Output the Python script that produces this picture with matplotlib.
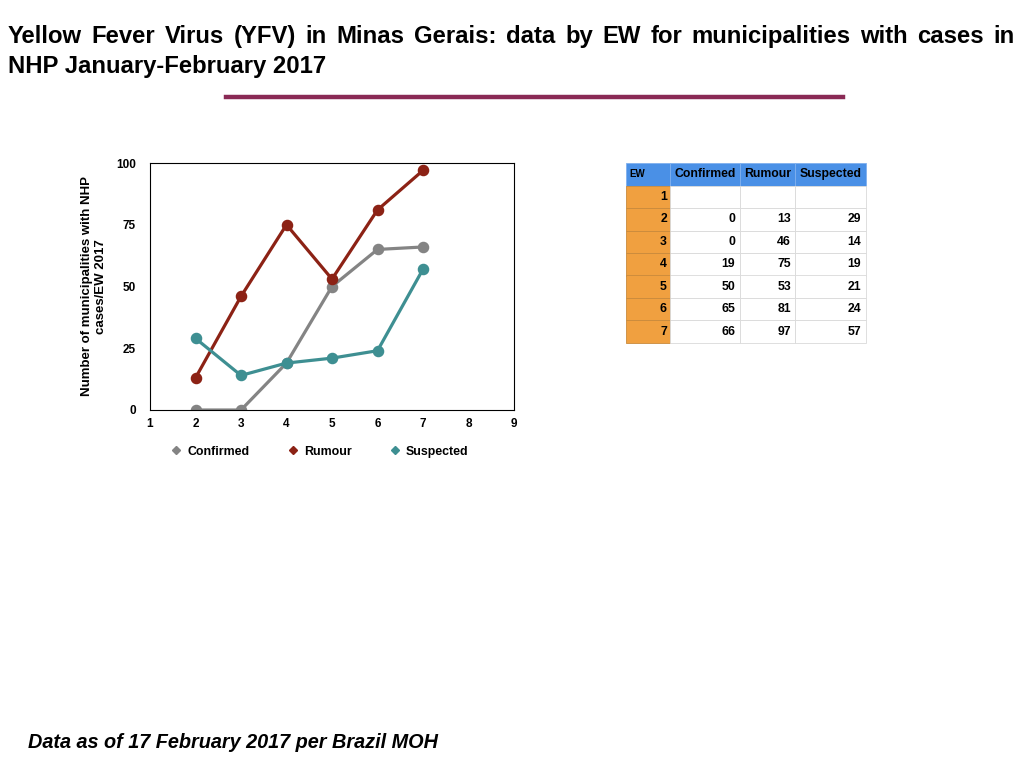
import matplotlib
matplotlib.use("Agg")
import matplotlib.pyplot as plt
from matplotlib.lines import Line2D

plt.rcParams['font.family'] = ['Liberation Sans', 'DejaVu Sans']

# data by epidemiological week (EW)
ew = [1, 2, 3, 4, 5, 6, 7]
confirmed = [None, 0, 0, 19, 50, 65, 66]
rumour = [None, 13, 46, 75, 53, 81, 97]
suspected = [None, 29, 14, 19, 21, 24, 57]
series_names = ["Confirmed", "Rumour", "Suspected"]
series_colors = ["#848484", "#8c2215", "#3e8f92"]

title_line1 = "Yellow Fever Virus (YFV) in Minas Gerais: data by EW for municipalities with cases in"
title_line2 = "NHP January-February 2017"
footer = "Data as of 17 February 2017 per Brazil MOH"

fig = plt.figure(figsize=(10.24, 7.68), dpi=100)

# title, first line justified across the slide
fs_title = 17.2
renderer = fig.canvas.get_renderer()
words = title_line1.split()
left_px, right_px = 8, 1015
widths = []
for w in words:
    t = fig.text(0, 0, w, fontsize=fs_title, fontweight='bold')
    widths.append(t.get_window_extent(renderer).width)
    t.remove()
gap = (right_px - left_px - sum(widths)) / (len(words) - 1)
x = left_px
for w, wd in zip(words, widths):
    fig.text(x / 1024, 1 - 43 / 768, w, fontsize=fs_title, fontweight='bold', va='baseline')
    x += wd + gap
fig.text(8 / 1024, 1 - 73 / 768, title_line2, fontsize=fs_title, fontweight='bold', va='baseline')

# divider under title
fig.add_artist(Line2D([226 / 1024, 843 / 1024], [1 - 97 / 768, 1 - 97 / 768],
                      color='#8a2a55', linewidth=3.2, transform=fig.transFigure))

# line chart
ax = fig.add_axes([150 / 1024, 1 - 410 / 768, 364 / 1024, 247 / 768])
for vals, name, col in zip([confirmed, rumour, suspected], series_names, series_colors):
    xs = [e for e, v in zip(ew, vals) if v is not None]
    ys = [v for v in vals if v is not None]
    ax.plot(xs, ys, color=col, linewidth=2.3, marker='o', markersize=7.3, label=name)
ax.set_xlim(1, 9)
ax.set_ylim(0, 100)
ax.set_xticks(range(1, 10))
ax.set_yticks([0, 25, 50, 75, 100])
ax.tick_params(length=0, labelsize=8.5)
ax.tick_params(axis='y', pad=10)
ax.tick_params(axis='x', pad=6)
for lbl in ax.get_xticklabels() + ax.get_yticklabels():
    lbl.set_fontweight('bold')
for sp in ax.spines.values():
    sp.set_linewidth(0.8)
ax.set_ylabel("Number of municipalities with NHP\ncases/EW 2017", fontsize=9.5, fontweight='bold', labelpad=7)

handles = [Line2D([], [], color=c, marker='D', markersize=4.5, linestyle='None') for c in series_colors]
ax.legend(handles, series_names, loc='upper center', bbox_to_anchor=(0.465, -0.1), ncol=3,
          frameon=False, prop={'size': 8.9, 'weight': 'bold'}, handletextpad=0.4,
          columnspacing=3.0, handlelength=1.0)

# table
tax = fig.add_axes([626 / 1024, 1 - 343 / 768, 240 / 1024, 180 / 768])
tax.axis('off')
cell_text = []
for i, e in enumerate(ew):
    row = [str(e)]
    for vals in [confirmed, rumour, suspected]:
        row.append('' if vals[i] is None else str(vals[i]))
    cell_text.append(row)
col_labels = ["EW"] + series_names
tbl = tax.table(cellText=cell_text, colLabels=col_labels, bbox=[0, 0, 1, 1],
                colWidths=[44, 70, 55, 71], cellLoc='right')
tbl.auto_set_font_size(False)
for (r, c), cell in tbl.get_celld().items():
    cell.set_linewidth(0.6)
    cell.PAD = 0.07
    txt = cell.get_text()
    txt.set_fontweight('bold')
    txt.set_fontsize(8.8)
    if r == 0:
        cell.set_facecolor('#4a90e6')
        cell.set_edgecolor('#7fb0ee')
        if c == 0:
            txt.set_fontsize(7)
            txt.set_ha('left')
            cell._loc = 'left'
        else:
            txt.set_ha('center')
            cell._loc = 'center'
    elif c == 0:
        cell.set_facecolor('#f0a040')
        cell.set_edgecolor('#c98a3c')
    else:
        cell.set_facecolor('white')
        cell.set_edgecolor('#d9d9d9')

# footer
fig.text(28 / 1024, 1 - 742 / 768, footer, fontsize=14.3, fontweight='bold', fontstyle='italic', va='center')

fig.savefig("out.png", dpi=100)
